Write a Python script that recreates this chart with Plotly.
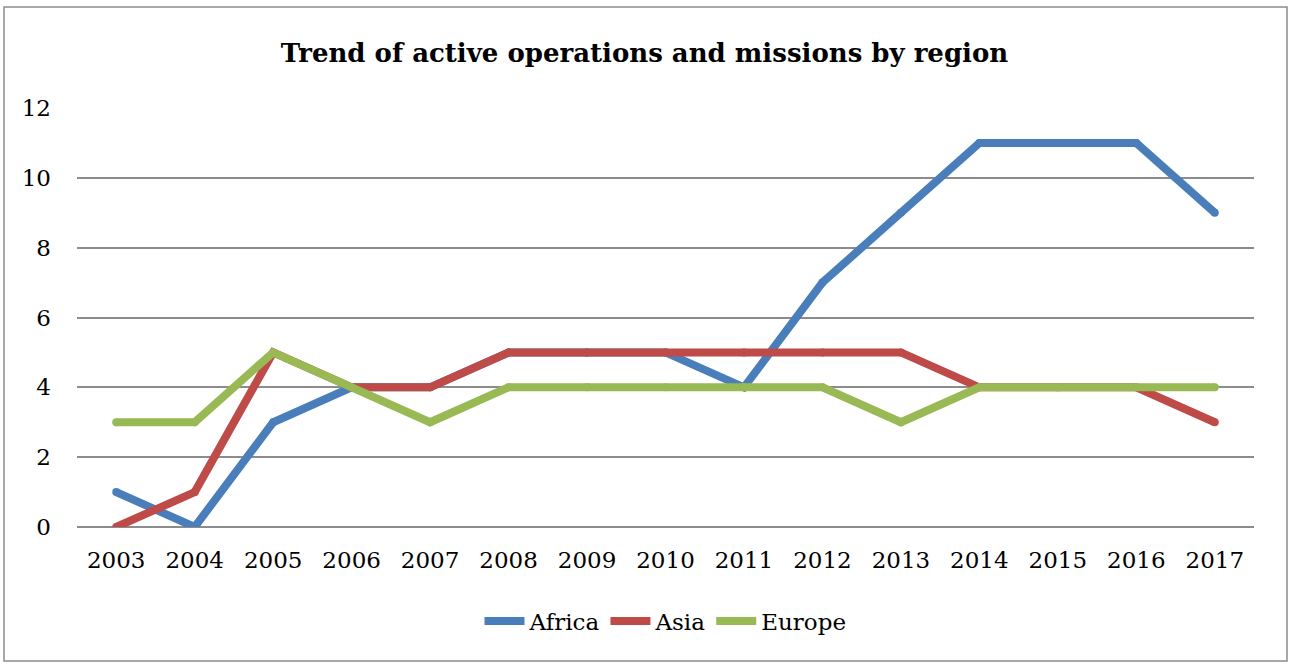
import plotly.graph_objects as go

years = [str(y) for y in range(2003, 2018)]
africa = [1, 0, 3, 4, 4, 5, 5, 5, 4, 7, 9, 11, 11, 11, 9]
asia = [0, 1, 5, 4, 4, 5, 5, 5, 5, 5, 5, 4, 4, 4, 3]
europe = [3, 3, 5, 4, 3, 4, 4, 4, 4, 4, 3, 4, 4, 4, 4]

series = [("Africa", africa, "#4A7EBB"), ("Asia", asia, "#BE4B48"), ("Europe", europe, "#98B954")]

W, H = 1289, 664
L, R, T, B = 77, 1254, 108, 527
pw, ph = R - L, B - T

fig = go.Figure()
for name, vals, col in series:
    # round markers give the line rounded caps/joins like the original
    fig.add_trace(go.Scatter(x=years, y=vals, name=name, mode="lines+markers",
                             line=dict(color=col, width=8),
                             marker=dict(color=col, size=8, line=dict(width=0))))

FONT = "DejaVu Serif"
fig.update_layout(
    width=W, height=H,
    margin=dict(l=L, r=W - R, t=T, b=H - B),
    paper_bgcolor="white", plot_bgcolor="white",
    font=dict(family=FONT, size=22, color="black"),
    title=dict(text="<b>Trend of active operations and missions by region</b>",
               x=0.5, xanchor="center", y=1 - 53 / H, yanchor="middle",
               font=dict(family=FONT, size=26)),
    xaxis=dict(showgrid=False, showline=False, ticks="", range=[-0.5, 14.5],
               tickfont=dict(size=23), ticklabelstandoff=17),
    yaxis=dict(range=[0, 12], dtick=2, showgrid=True, gridcolor="#8c8c8c", gridwidth=1.5,
               zeroline=True, zerolinecolor="#8c8c8c", zerolinewidth=1.5,
               ticks="", ticklabelstandoff=25, tickfont=dict(size=23)),
    legend=dict(orientation="h", x=0.5, xanchor="center", y=-(621 - B) / ph, yanchor="middle",
                font=dict(size=23), itemwidth=40),
    showlegend=True,
)

# outer chart border
fig.add_shape(type="rect", xref="paper", yref="paper",
              x0=(4 - L) / pw, x1=(1287 - L) / pw,
              y0=(B - 661) / ph, y1=(B - 7) / ph,
              line=dict(color="#8c8c8c", width=1.5), fillcolor="rgba(0,0,0,0)")

fig.write_html("out.html", config={"displayModeBar": False},
               post_script="document.body.style.margin='0';")
